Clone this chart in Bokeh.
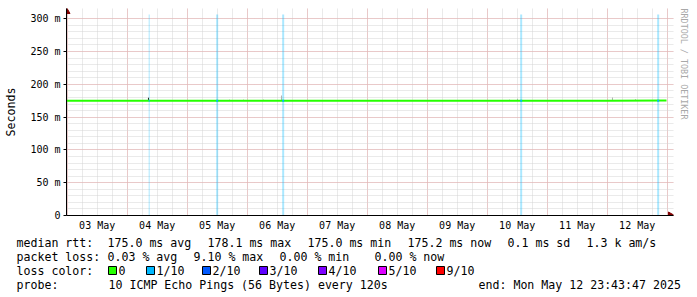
import pandas as pd
from bokeh.plotting import figure
from bokeh.layouts import column, row
from bokeh.models import (FixedTicker, Range1d, Title, DatetimeTickFormatter, LinearAxis)
from bokeh.core.properties import value
from bokeh.embed import file_html
from bokeh.resources import INLINE

# ---------------- data ----------------
end_time = pd.Timestamp("2025-05-12 23:43:47")
start_time = end_time - pd.Timedelta(days=10)

median_times = ["2025-05-02 23:43:47", "2025-05-04 00:00", "2025-05-05 00:00", "2025-05-06 00:00",
                "2025-05-07 00:00", "2025-05-08 00:00", "2025-05-09 00:00", "2025-05-10 00:00",
                "2025-05-11 00:00", "2025-05-12 00:00", "2025-05-12 23:43:47"]
median_ms = [175.0, 175.0, 175.0, 175.0, 175.0, 175.0, 175.0, 175.0, 175.0, 175.0, 175.2]

loss_times = ["2025-05-04 08:48", "2025-05-05 12:00", "2025-05-06 14:24",
              "2025-05-10 13:36", "2025-05-12 20:24"]
loss_minutes = [24, 48, 48, 48, 48]
loss_tenths = [1, 1, 1, 1, 1]
loss_median_ms = [175.0, 175.0, 175.0, 175.0, 175.0]

smoke_times = ["2025-05-04 08:31", "2025-05-05 16:55", "2025-05-05 22:31", "2025-05-06 06:31",
               "2025-05-06 13:43", "2025-05-10 08:55", "2025-05-10 12:07", "2025-05-12 02:07",
               "2025-05-12 11:19"]
smoke_low = [175.0, 175.0, 175.0, 175.0, 175.0, 175.0, 175.0, 175.0, 175.0]
smoke_high = [179.5, 177.0, 177.0, 177.0, 183.0, 177.0, 178.0, 180.0, 177.5]
smoke_colors = ["#202020", "#c0c0c0", "#c0c0c0", "#c0c0c0", "#b0b0b0", "#c0c0c0", "#b0b0b0",
                "#b0b0b0", "#c0c0c0"]

y_ticks = [0, 50, 100, 150, 200, 250, 300]
y_tick_labels = ["0", "50 m", "100 m", "150 m", "200 m", "250 m", "300 m"]

loss_color_names = ["0", "1/10", "2/10", "3/10", "4/10", "5/10", "9/10"]
loss_color_values = ["#26ff00", "#00b8ff", "#0059ff", "#5e00ff", "#7e00ff", "#dd00ff", "#ff0000"]

legend_rows = [
    ["median rtt:", "175.0 ms avg", "178.1 ms max", "175.0 ms min", "175.2 ms now", "0.1 ms sd", "1.3 k am/s"],
    ["packet loss:", "0.03 % avg", "9.10 % max", "0.00 % min", "0.00 % now"],
    ["loss color:"],
    ["probe:", "10 ICMP Echo Pings (56 Bytes) every 120s", "end: Mon May 12 23:43:47 2025"],
]

# ---------------- layout (pixels) ----------------
MONO = "DejaVu Sans Mono"
legend_x = [[16, 107, 207, 307, 407, 507, 586], [16, 107, 193, 279, 374], [16], [16, 108, 478]]
legend_y = [9, 23, 37, 51]
square_x = [108, 146, 202, 259, 318, 378, 436]

to_ms = lambda t: pd.Timestamp(t).value / 1e6
PX_MIN = 24  # minutes per pixel on the time axis
y_per_px = 306.5 / 201

x_end_ext = end_time + pd.Timedelta(minutes=PX_MIN * 7)
y_top_ext = 306.5 + 6 * y_per_px

p = figure(frame_width=607, frame_height=207, min_border_left=66, min_border_right=24,
           min_border_top=8, min_border_bottom=17, x_axis_type="datetime",
           output_backend="svg", toolbar_location=None,
           x_range=Range1d(to_ms(start_time), to_ms(x_end_ext)), y_range=Range1d(0, y_top_ext))
p.outline_line_color = None
p.background_fill_color = "white"
p.border_fill_color = "white"

days = pd.date_range("2025-05-03", periods=10, freq="D")
noons = [to_ms(d + pd.Timedelta(hours=12)) for d in days]
midnights = [to_ms(d) for d in pd.date_range("2025-05-03", periods=11, freq="D")]
six_hours = [to_ms(t) for t in pd.date_range("2025-05-02 18:00", "2025-05-13 00:00", freq="6h")]

# grids
p.xgrid.ticker = FixedTicker(ticks=midnights, minor_ticks=six_hours)
p.ygrid.ticker = FixedTicker(ticks=y_ticks, minor_ticks=list(range(0, 310, 10)))
for g in (p.xgrid, p.ygrid):
    g.grid_line_color = "#e8a8a8"
    g.grid_line_dash = "1 1"
    g.grid_line_width = 1
    g.minor_grid_line_color = "#d4d4d4"
    g.minor_grid_line_dash = "1 1"
    g.level = "underlay"
p.xgrid.bounds = (to_ms(start_time), to_ms(end_time))
p.ygrid.bounds = (0, 306.5)

# axes
xa = p.xaxis[0]
xa.ticker = FixedTicker(ticks=noons)
xa.formatter = DatetimeTickFormatter(days="%d %b", hours="%d %b", months="%d %b",
                                     minutes="%d %b", context=None)
xa.axis_line_color = "black"
xa.major_tick_out = 0
xa.major_tick_in = 0
xa.minor_tick_out = 0
xa.minor_tick_in = 0
xa.major_tick_line_color = None
xa.minor_tick_line_color = None
xa.major_label_text_font = MONO
xa.major_label_text_font_size = "10px"
xa.major_label_text_color = "black"
xa.major_label_standoff = 4

ya = p.yaxis[0]
ya.ticker = FixedTicker(ticks=y_ticks)
ya.major_label_overrides = {v: s for v, s in zip(y_ticks, y_tick_labels)}
ya.axis_line_color = "black"
ya.major_tick_out = 3
ya.major_tick_in = 0
ya.minor_tick_out = 0
ya.minor_tick_in = 0
ya.major_tick_line_color = "black"
ya.minor_tick_line_color = None
ya.major_label_text_font = MONO
ya.major_label_text_font_size = "10px"
ya.major_label_text_color = "black"
ya.major_label_standoff = 3
ya.axis_label = "Seconds"
ya.axis_label_text_font = MONO
ya.axis_label_text_font_size = "11.6px"
ya.axis_label_text_font_style = "normal"
ya.axis_label_text_color = "black"
ya.axis_label_standoff = 9

# empty right axis used only as a spacer, then the vertical watermark
spacer = LinearAxis(ticker=FixedTicker(ticks=[]), axis_line_color=None, major_tick_out=8,
                    major_tick_in=0, minor_tick_out=0, minor_tick_in=0, major_label_standoff=0,
                    major_tick_line_color=None, minor_tick_line_color=None)
p.add_layout(spacer, "right")
p.add_layout(Title(text="RRDTOOL / TOBI OETIKER", text_font=MONO, text_font_size="8.4px",
                   text_color="#a8a8a8", text_font_style="normal", align="left"), "right")

# loss background bars
loss_x = [to_ms(t) for t in loss_times]
loss_w = [m * 60000 for m in loss_minutes]
loss_cols = [loss_color_values[min(k, 6)] for k in loss_tenths]
p.vbar(x=loss_x, width=loss_w, bottom=0, top=306.5, fill_color=loss_cols, fill_alpha=0.33,
       line_color=None)

# smoke
p.vbar(x=[to_ms(t) for t in smoke_times], width=PX_MIN * 60000, bottom=smoke_low, top=smoke_high,
       fill_color=smoke_colors, line_color=None)

# median line
p.line([to_ms(t) for t in median_times], median_ms, line_color=loss_color_values[0], line_width=2)
p.segment(x0=[x - w / 2 for x, w in zip(loss_x, loss_w)], x1=[x + w / 2 for x, w in zip(loss_x, loss_w)],
          y0=loss_median_ms, y1=loss_median_ms, line_color=loss_cols, line_width=2)

# arrow heads at the axis ends
arrow_col = "#800000"
p.scatter(x=[to_ms(start_time)], y=[y_top_ext - 3 * y_per_px], marker="triangle", size=7,
          fill_color=arrow_col, line_color=arrow_col)
p.scatter(x=[to_ms(x_end_ext) - 3 * PX_MIN * 60000], y=[0], marker="triangle", angle=-1.5708,
          size=7, fill_color=arrow_col, line_color=arrow_col)
p.segment(x0=[to_ms(start_time)], x1=[to_ms(start_time)], y0=[0], y1=[y_top_ext - 3 * y_per_px],
          line_color="black", line_width=1)

# ---------------- legend area ----------------
lg = figure(frame_width=697, frame_height=65, min_border=0, output_backend="svg",
            toolbar_location=None, x_range=Range1d(0, 697), y_range=Range1d(65, 0),
            x_axis_location=None, y_axis_location=None)
lg.outline_line_color = None
lg.grid.visible = False
lg.background_fill_color = "white"
lg.border_fill_color = "white"

tx, ty, tt = [], [], []
for row_txt, xs, y in zip(legend_rows, legend_x, legend_y):
    for s, x in zip(row_txt, xs):
        tx.append(x); ty.append(y); tt.append(s)
for sx, name in zip(square_x, loss_color_names):
    tx.append(sx + 10); ty.append(legend_y[2]); tt.append(name)
lg.text(x=tx, y=ty, text=tt, text_font=value(MONO), text_font_size="11.6px", text_color="black",
        text_align="left", text_baseline="middle")
lg.quad(left=square_x, right=[s + 8 for s in square_x], top=[legend_y[2] - 4] * 7,
        bottom=[legend_y[2] + 4] * 7, fill_color=loss_color_values, line_color="black", line_width=1)

layout = column(p, row(lg, spacing=0), spacing=0)
open("out.html", "w").write(file_html(layout, INLINE))
